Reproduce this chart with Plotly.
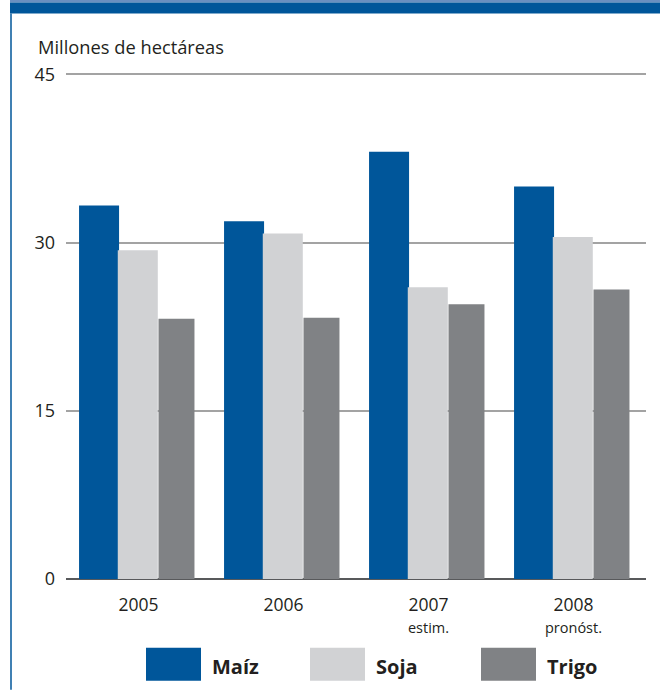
import plotly.graph_objects as go

# Data: planted area, millions of hectares
years = ["2005", "2006", "2007", "2008"]
year_notes = ["", "", "estim.", "pronóst."]
series_names = ["Maíz", "Soja", "Trigo"]
maiz = [33.3, 31.9, 38.1, 35.0]
soja = [29.3, 30.8, 26.0, 30.5]
trigo = [23.2, 23.3, 24.5, 25.8]
y_ticks = [0, 15, 30, 45]

colors = ["#00569a", "#d1d2d4", "#808285"]
offsets = [-0.410, -0.143, 0.138]
widths = [0.276, 0.276, 0.248]

W, H = 660, 690
L, R = 66, 646          # plot area left/right in pixels
Y_MAX = 45.2            # a little headroom so the top gridline is drawn
B = 579.3               # pixel row of the zero line
PX_PER_UNIT = (579.3 - 74.7) / 45
T = B - Y_MAX * PX_PER_UNIT
FONT = "Open Sans"
TXT = "#231f20"


def px(x):
    return (x - L) / (R - L)


def py(y):
    return (B - y) / (B - T)


fig = go.Figure()
xs = list(range(len(years)))
for name, vals, col, off, w in zip(series_names, [maiz, soja, trigo], colors, offsets, widths):
    fig.add_trace(go.Bar(
        x=xs, y=vals, name=name, marker=dict(color=col, line=dict(width=0)),
        offset=off, width=w, showlegend=False,
    ))

ticktext = []
for yr, note in zip(years, year_notes):
    if note:
        ticktext.append(f"{yr}<br><span style='font-size:14.5px'>{note}</span>")
    else:
        ticktext.append(yr)

shapes = [
    # header band
    dict(type="rect", xref="paper", yref="paper", x0=px(10), x1=px(660), y0=py(3), y1=py(0),
         fillcolor="#6a8fc0", line=dict(width=0), layer="above"),
    dict(type="rect", xref="paper", yref="paper", x0=px(10), x1=px(660), y0=py(14), y1=py(3),
         fillcolor="#00569a", line=dict(width=0), layer="above"),
    # left frame rule
    dict(type="line", xref="paper", yref="paper", x0=px(11), x1=px(11), y0=py(690), y1=py(14),
         line=dict(color="#00569a", width=1.5)),
]

annotations = [
    dict(text="Millones de hectáreas", xref="paper", yref="paper", x=px(36), y=py(47),
         xanchor="left", yanchor="middle", showarrow=False,
         font=dict(family=FONT, size=18.3, color=TXT)),
]

# legend drawn as swatches with labels
legend_x = [146, 310, 481]
for name, col, x0 in zip(series_names, colors, legend_x):
    shapes.append(dict(type="rect", xref="paper", yref="paper", x0=px(x0), x1=px(x0 + 55),
                       y0=py(681), y1=py(648), fillcolor=col, line=dict(width=0)))
    annotations.append(dict(text=f"<b>{name}</b>", xref="paper", yref="paper", x=px(x0 + 64),
                            y=py(666.5), xanchor="left", yanchor="middle", showarrow=False,
                            font=dict(family=FONT, size=20, color=TXT)))

fig.update_layout(
    width=W, height=H,
    margin=dict(l=L, r=W - R, t=T, b=H - B, pad=0),
    paper_bgcolor="white", plot_bgcolor="white",
    barmode="overlay",
    font=dict(family=FONT, color=TXT),
    shapes=shapes, annotations=annotations,
    xaxis=dict(
        range=[-0.5, 3.5], tickvals=xs, ticktext=ticktext, showgrid=False,
        showline=False, zeroline=False, ticks="", ticklabelstandoff=13,
        tickfont=dict(family=FONT, size=17.5, color=TXT), fixedrange=True,
    ),
    yaxis=dict(
        range=[0, Y_MAX], tickvals=y_ticks, showgrid=True, gridcolor="#a3a3a3", gridwidth=1.6,
        zeroline=True, zerolinecolor="#58595b", zerolinewidth=2.2, showline=False,
        ticks="", ticklabelstandoff=10,
        tickfont=dict(family=FONT, size=18, color=TXT), fixedrange=True,
    ),
)

fig.write_html("out.html")
